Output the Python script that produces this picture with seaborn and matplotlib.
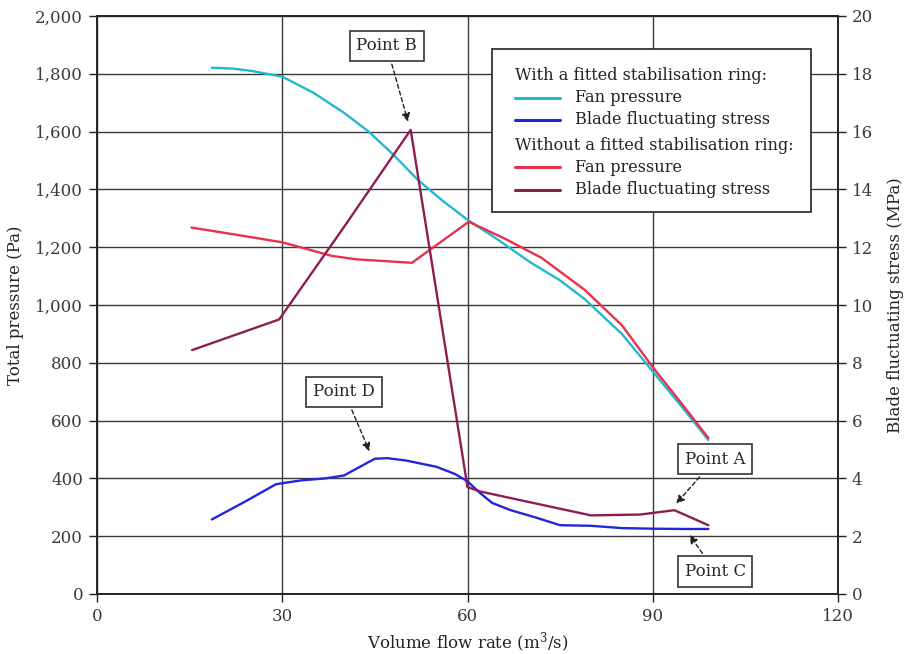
import matplotlib
matplotlib.use("Agg")
import matplotlib.pyplot as plt
import seaborn as sns
import pandas as pd
from matplotlib.lines import Line2D
from matplotlib.patches import Rectangle
from matplotlib.ticker import FuncFormatter

# Volume flow rate (m3/s) and total pressure (Pa), with stabilisation ring
flow_ring_p = [18.6, 22, 25, 30, 35, 40, 44, 48, 52, 56, 60, 65, 70, 75, 79, 85, 90, 95, 99]
press_ring = [1821, 1818, 1810, 1790, 1735, 1665, 1600, 1520, 1432, 1360, 1295, 1225, 1150, 1085, 1020, 900, 770, 640, 533]

# Total pressure (Pa), without stabilisation ring
flow_noring_p = [15.3, 22, 30, 38, 42, 51, 60.2, 66, 72, 79, 85, 90, 95, 99]
press_noring = [1268, 1245, 1217, 1170, 1158, 1146, 1288, 1230, 1163, 1052, 930, 785, 650, 540]

# Blade fluctuating stress (MPa), with stabilisation ring
flow_ring_s = [18.6, 24, 29, 33, 37, 40, 43, 45, 47, 50, 55, 58, 60, 62, 64, 67, 71, 75, 80, 85, 90, 95, 99]
stress_ring = [2.58, 3.20, 3.80, 3.93, 4.00, 4.10, 4.45, 4.68, 4.70, 4.62, 4.40, 4.15, 3.90, 3.50, 3.15, 2.90, 2.65, 2.38, 2.36, 2.28, 2.26, 2.25, 2.25]

# Blade fluctuating stress (MPa), without stabilisation ring
flow_noring_s = [15.4, 29.5, 40, 50.8, 60, 62, 70, 80, 88, 93.5, 99]
stress_noring = [8.44, 9.50, 12.70, 16.06, 3.70, 3.55, 3.18, 2.72, 2.75, 2.90, 2.38]

x_ticks = [0, 30, 60, 90, 120]
p_ticks = list(range(0, 2001, 200))
s_ticks = list(range(0, 21, 2))

legend_header_1 = "With a fitted stabilisation ring:"
legend_header_2 = "Without a fitted stabilisation ring:"
legend_fan = "Fan pressure"
legend_blade = "Blade fluctuating stress"

c_cyan = "#22b8cf"
c_blue = "#2424dc"
c_red = "#e8304c"
c_purple = "#8e1e52"

sns.set_theme(style="white")
plt.rcParams["font.family"] = ["DejaVu Serif"]
plt.rcParams["mathtext.fontset"] = "dejavuserif"

fig = plt.figure(figsize=(9.09, 6.54), dpi=100)
ax = fig.add_axes([97 / 909, 60 / 654, 741 / 909, 578 / 654])
ax2 = ax.twinx()

df_p1 = pd.DataFrame({"flow": flow_ring_p, "val": press_ring})
df_p2 = pd.DataFrame({"flow": flow_noring_p, "val": press_noring})
df_s1 = pd.DataFrame({"flow": flow_ring_s, "val": stress_ring})
df_s2 = pd.DataFrame({"flow": flow_noring_s, "val": stress_noring})

lw = 1.7
sns.lineplot(data=df_p1, x="flow", y="val", ax=ax, color=c_cyan, lw=lw, sort=False, zorder=3)
sns.lineplot(data=df_p2, x="flow", y="val", ax=ax, color=c_red, lw=lw, sort=False, zorder=3)
sns.lineplot(data=df_s1, x="flow", y="val", ax=ax2, color=c_blue, lw=lw, sort=False, zorder=3)
sns.lineplot(data=df_s2, x="flow", y="val", ax=ax2, color=c_purple, lw=lw, sort=False, zorder=3)

ax.set_xlim(0, 120)
ax.set_ylim(0, 2000)
ax2.set_ylim(0, 20)
ax2.set_xlim(0, 120)
ax.set_xticks(x_ticks)
ax.set_yticks(p_ticks)
ax2.set_yticks(s_ticks)
ax.yaxis.set_major_formatter(FuncFormatter(lambda v, _: f"{int(v):,}"))

fs = 12
ax.grid(True, color="#3a3a3a", lw=1.0)
ax2.grid(False)
for a in (ax, ax2):
    for sp in a.spines.values():
        sp.set_color("#222222")
        sp.set_linewidth(1.2)
    a.tick_params(direction="out", length=6, width=1.0, color="#222222",
                  labelsize=fs, labelcolor="#3a3a3a", pad=4)
ax.tick_params(axis="y", left=True)
ax.tick_params(axis="x", bottom=True)
ax2.tick_params(axis="y", right=True)

ax.set_xlabel("Volume flow rate (m$^3$/s)", fontsize=fs, color="#222222", labelpad=4)
ax.set_ylabel("Total pressure (Pa)", fontsize=fs, color="#222222", labelpad=8)
ax2.set_ylabel("Blade fluctuating stress (MPa)", fontsize=fs, color="#222222", labelpad=10)

# Callout labels with dashed arrows
box = dict(boxstyle="square,pad=0.4", fc="white", ec="#333333", lw=1.2)
arrow = dict(arrowstyle="-|>", ls=(0, (3, 2)), color="#222222", lw=1.0, mutation_scale=12)
ann_fs = 12
ax.annotate("Point B", xy=(50.5, 1625), xytext=(46.9, 1897), fontsize=ann_fs,
            ha="center", va="center", bbox=box, arrowprops=arrow, zorder=6)
ax.annotate("Point D", xy=(44.3, 485), xytext=(40.0, 700), fontsize=ann_fs,
            ha="center", va="center", bbox=box, arrowprops=arrow, zorder=6)
ax.annotate("Point A", xy=(93.5, 305), xytext=(100.1, 467), fontsize=ann_fs,
            ha="center", va="center", bbox=box, arrowprops=arrow, zorder=6)
ax.annotate("Point C", xy=(95.7, 212), xytext=(100.1, 78), fontsize=ann_fs,
            ha="center", va="center", bbox=box, arrowprops=arrow, zorder=6)

# Legend panel
def px(xp, yp):
    return ((xp - 97) / 741, (594 - yp) / 578)

leg_fs = 11.6
x0, y0 = px(492, 212)
x1, y1 = px(811, 49)
ax2.add_patch(Rectangle((x0, y0), x1 - x0, y1 - y0, transform=ax.transAxes,
                        fc="white", ec="#333333", lw=1.3, zorder=7, clip_on=False))
rows = [(75, legend_header_1, None), (98, legend_fan, c_cyan), (120, legend_blade, c_blue),
        (145, legend_header_2, None), (167, legend_fan, c_red), (190, legend_blade, c_purple)]
for yp, label, col in rows:
    if col is None:
        tx, ty = px(515, yp)
    else:
        hx0, hy = px(515, yp)
        hx1, _ = px(560, yp)
        ax2.add_line(Line2D([hx0, hx1], [hy, hy], transform=ax.transAxes, color=col,
                            lw=2.2, zorder=8))
        tx, ty = px(575, yp)
    ax2.text(tx, ty, label, transform=ax.transAxes, fontsize=leg_fs, color="#222222",
             ha="left", va="center", zorder=8)

fig.savefig("out.png", dpi=100)
